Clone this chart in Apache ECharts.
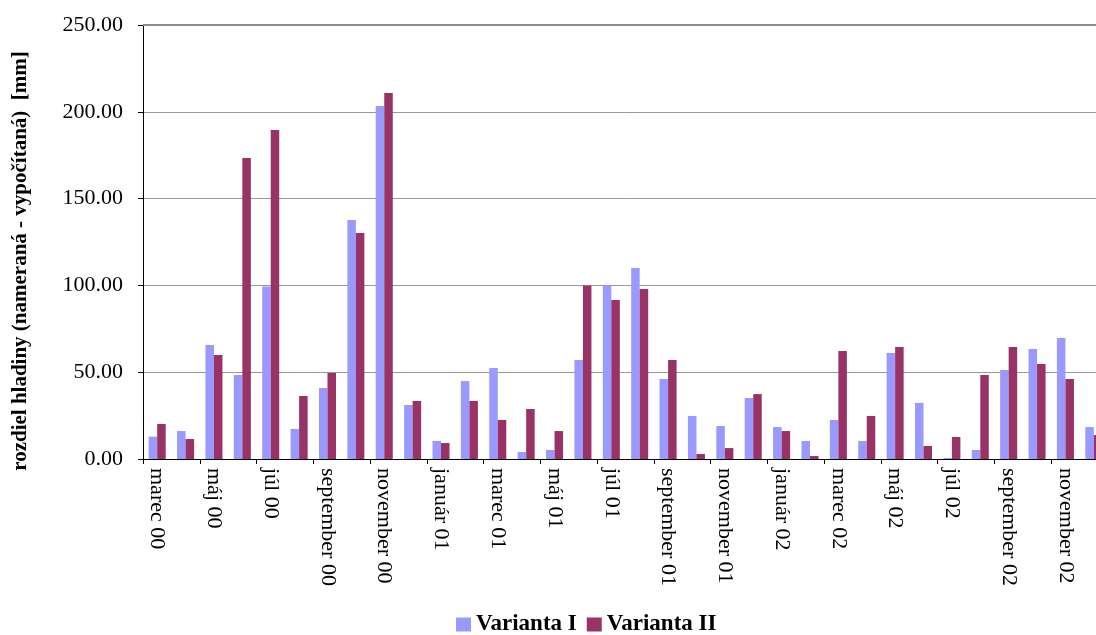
<!DOCTYPE html>
<html>
<head>
<meta charset="utf-8">
<script src="https://cdn.jsdelivr.net/npm/echarts@6/dist/echarts.min.js"></script>
<style>
  html, body { margin: 0; padding: 0; background: #fff; overflow: hidden; }
  /* the drawing surface is a bit wider than the window; the last column is clipped */
  #chart { width: 1110px; height: 635px; }
</style>
</head>
<body>
<div id="chart"></div>
<script>
// Months, March 2000 - December 2002
const months = [
  'marec 00', 'apríl 00', 'máj 00', 'jún 00', 'júl 00', 'august 00',
  'september 00', 'október 00', 'november 00', 'december 00',
  'január 01', 'február 01', 'marec 01', 'apríl 01', 'máj 01', 'jún 01',
  'júl 01', 'august 01', 'september 01', 'október 01', 'november 01', 'december 01',
  'január 02', 'február 02', 'marec 02', 'apríl 02', 'máj 02', 'jún 02',
  'júl 02', 'august 02', 'september 02', 'október 02', 'november 02', 'december 02'
];

// Difference of water level (measured - computed) [mm]
const variantaI = [
  12.9, 16.1, 65.7, 48.4, 99.3, 17.3, 40.9, 137.7, 203.3, 31.1,
  10.4, 44.9, 52.4, 4.0, 5.2, 57.0, 100.0, 110.0, 46.1, 24.8, 19.0, 35.1,
  18.4, 10.4, 22.5, 10.4, 61.1, 32.3, 0.6, 5.2, 51.3, 63.4, 69.7, 18.4
];
const variantaII = [
  20.2, 11.5, 59.9, 173.4, 189.5, 36.3, 49.5, 130.2, 210.8, 33.4,
  9.2, 33.4, 22.5, 28.8, 16.1, 100.0, 91.6, 97.9, 57.0, 2.9, 6.3, 37.4,
  16.1, 1.7, 62.2, 24.8, 64.5, 7.5, 12.7, 48.4, 64.5, 54.7, 46.1, 13.8
];

const yMin = 0, yMax = 250, yStep = 50;
const seriesNames = ['Varianta I', 'Varianta II'];
const yTitle = 'rozdiel hladiny (nameraná - vypočítaná)  [mm]';

const serif = '"Liberation Serif", "DejaVu Serif", serif';

const chart = echarts.init(document.getElementById('chart'), null, { renderer: 'canvas' });

chart.setOption({
  animation: false,
  backgroundColor: '#ffffff',
  textStyle: { fontFamily: serif, color: '#000' },
  grid: { left: 143, right: 2, top: 25, height: 434, containLabel: false },
  legend: {
    data: seriesNames,
    top: 608,
    left: 451,
    itemWidth: 15,
    itemHeight: 14,
    itemGap: 10,
    icon: 'rect',
    textStyle: { fontFamily: serif, fontSize: 23, fontWeight: 'bold', color: '#000' }
  },
  graphic: [{
    type: 'text',
    x: 21,
    y: 261,
    rotation: Math.PI / 2,
    style: {
      text: yTitle,
      font: 'bold 21px ' + serif,
      fill: '#000',
      textAlign: 'center',
      textVerticalAlign: 'middle'
    }
  }],
  xAxis: {
    type: 'category',
    data: months,
    boundaryGap: true,
    axisLine: { show: true, lineStyle: { color: '#000', width: 1 } },
    axisTick: { show: true, interval: 1, length: 5, inside: false, lineStyle: { color: '#000' } },
    axisLabel: {
      interval: 1,
      rotate: -90,
      margin: 9,
      fontFamily: serif,
      fontSize: 22,
      color: '#000'
    },
    splitLine: { show: false }
  },
  yAxis: {
    type: 'value',
    min: yMin,
    max: yMax,
    interval: yStep,
    axisLine: { show: true, lineStyle: { color: '#000', width: 1 } },
    axisTick: { show: true, length: 5, inside: false, lineStyle: { color: '#000' } },
    axisLabel: {
      margin: 20,
      fontFamily: serif,
      fontSize: 22,
      color: '#000',
      formatter: v => v.toFixed(2)
    },
    splitLine: { show: true, lineStyle: { color: '#999', width: 1 } }
  },
  series: [
    {
      name: seriesNames[0],
      type: 'bar',
      data: variantaI,
      barGap: '0%',
      barCategoryGap: '40%',
      itemStyle: { color: '#9999FF' },
      markLine: {
        silent: true,
        symbol: 'none',
        label: { show: false },
        lineStyle: { color: '#8c8c8c', width: 2, type: 'solid' },
        data: [{ yAxis: yMax }]
      }
    },
    {
      name: seriesNames[1],
      type: 'bar',
      data: variantaII,
      barGap: '0%',
      barCategoryGap: '40%',
      itemStyle: { color: '#993366' }
    }
  ]
});
</script>
</body>
</html>
